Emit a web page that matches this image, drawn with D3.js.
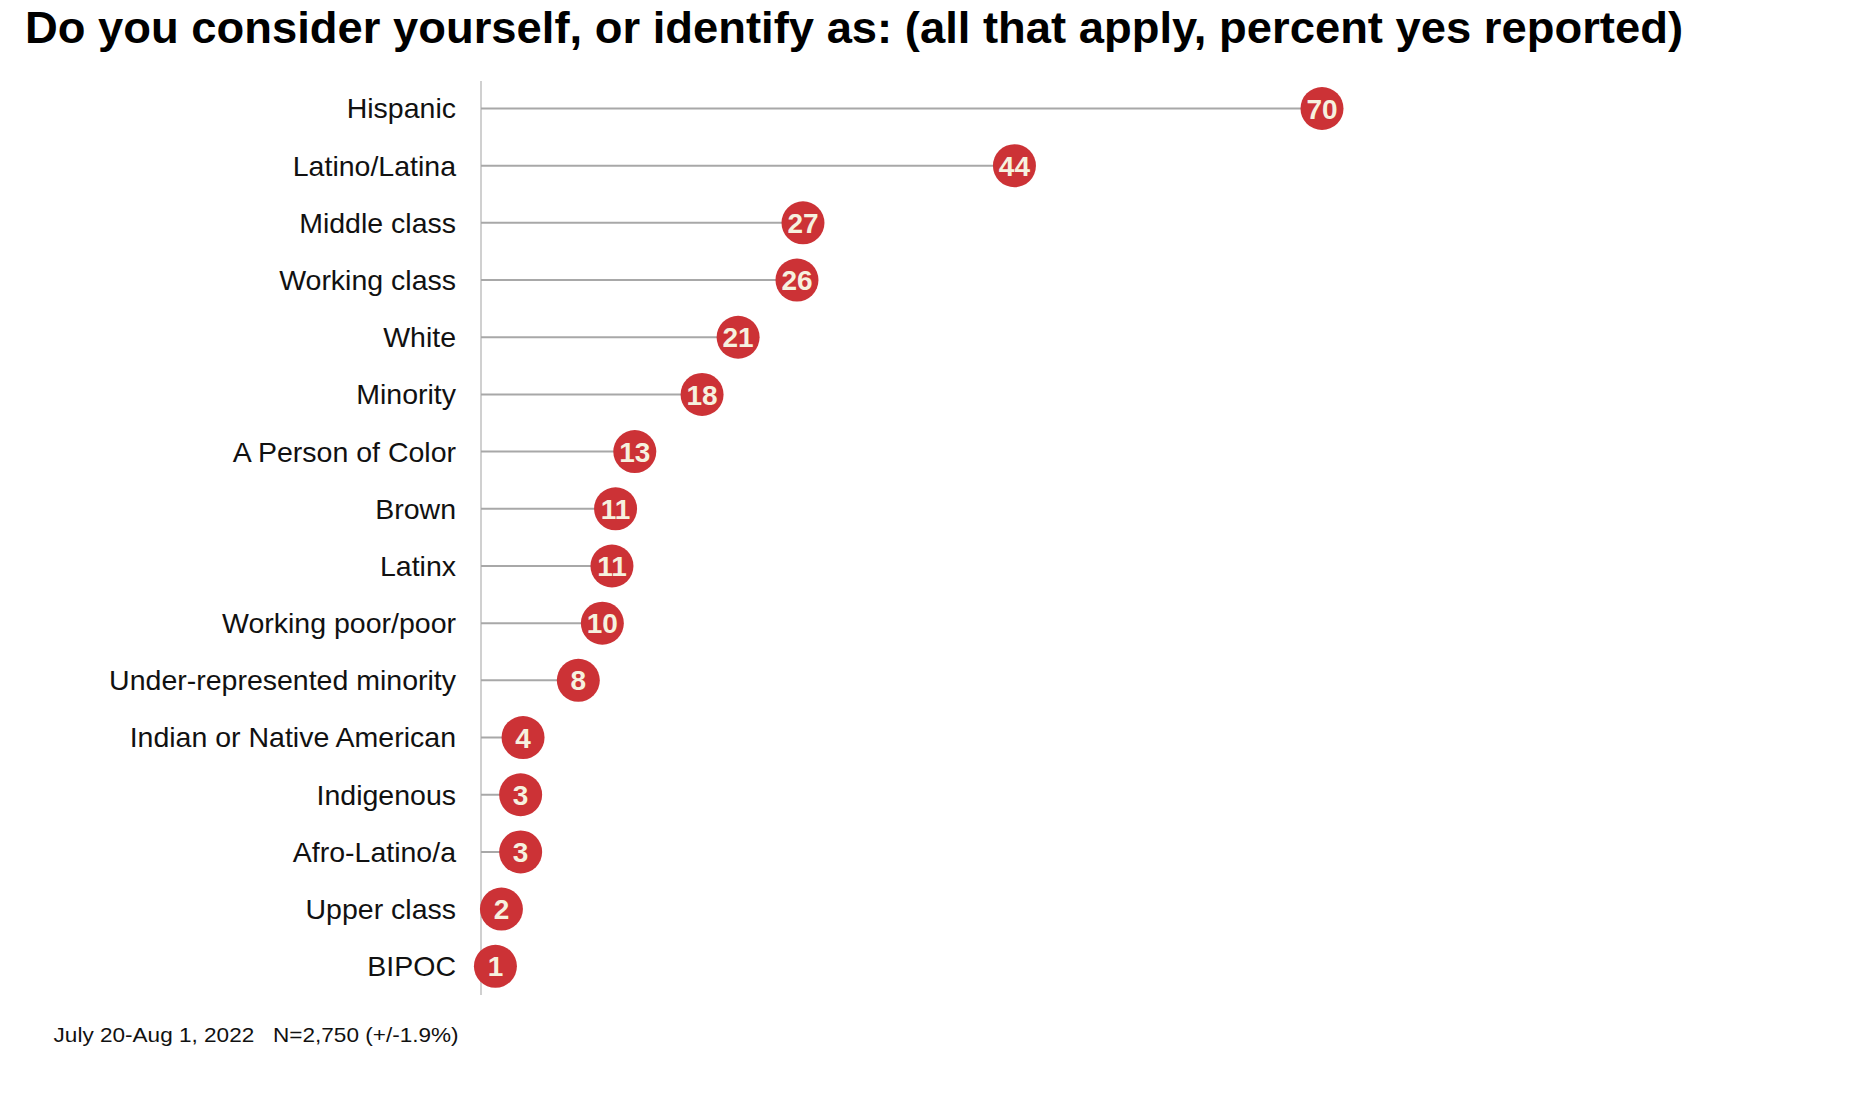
<!DOCTYPE html>
<html><head><meta charset="utf-8">
<script src="https://cdn.jsdelivr.net/npm/d3@7"></script>
<style>body{margin:0;background:#fff}svg{display:block}</style>
</head><body>
<script>
const categories = ["Hispanic","Latino/Latina","Middle class","Working class","White","Minority","A Person of Color","Brown","Latinx","Working poor/poor","Under-represented minority","Indian or Native American","Indigenous","Afro-Latino/a","Upper class","BIPOC"];
const values = [70, 44.4, 26.8, 26.3, 21.4, 18.4, 12.8, 11.2, 10.9, 10.1, 8.1, 3.5, 3.3, 3.3, 1.7, 1.2];
const valueLabels = ["70","44","27","26","21","18","13","11","11","10","8","4","3","3","2","1"];
const titleText = "Do you consider yourself, or identify as: (all that apply, percent yes reported)";
const footerText = "July 20-Aug 1, 2022   N=2,750 (+/-1.9%)";

const W = 1868, H = 1095;
const svg = d3.select("body").append("svg").attr("width", W).attr("height", H);

const x = d3.scaleLinear().domain([0, 70]).range([481, 1322]);
const y = d3.scalePoint().domain(categories).range([108.5, 966.3]);

svg.append("text").attr("x", 25).attr("y", 43)
  .attr("font-family", "Liberation Sans, Arial, sans-serif").attr("font-weight", "bold")
  .attr("font-size", 45).attr("textLength", 1658).attr("lengthAdjust", "spacingAndGlyphs")
  .attr("fill", "#000").text(titleText);

// axis line
svg.append("line").attr("x1", x(0)).attr("x2", x(0)).attr("y1", 81).attr("y2", 995)
  .attr("stroke", "#d0d0d0").attr("stroke-width", 2);

// category labels via axis
const yAxis = svg.append("g").attr("transform", `translate(${x(0) - 25},0)`)
  .call(d3.axisLeft(y).tickSize(0).tickPadding(0));
yAxis.select(".domain").remove();
yAxis.selectAll("text").attr("font-family", "Liberation Sans, Arial, sans-serif")
  .attr("font-size", 28.5).attr("fill", "#111").attr("dy", "0.33em");

const g = svg.append("g");
const data = categories.map((c, i) => ({c, v: values[i], l: valueLabels[i]}));
g.selectAll("line.stem").data(data).join("line").attr("class", "stem")
  .attr("x1", x(0)).attr("x2", d => x(d.v)).attr("y1", d => y(d.c)).attr("y2", d => y(d.c))
  .attr("stroke", "#a8a8a8").attr("stroke-width", 2);
g.selectAll("circle").data(data).join("circle")
  .attr("cx", d => x(d.v)).attr("cy", d => y(d.c)).attr("r", 21.5).attr("fill", "#cc3236");
g.selectAll("text.val").data(data).join("text").attr("class", "val")
  .attr("x", d => x(d.v)).attr("y", d => y(d.c)).attr("dy", "0.36em").attr("text-anchor", "middle")
  .attr("font-family", "Liberation Sans, Arial, sans-serif").attr("font-weight", "bold")
  .attr("font-size", 28).attr("fill", "#f6f1df").text(d => d.l);

svg.append("text").attr("x", 53.6).attr("y", 1042)
  .attr("font-family", "Liberation Sans, Arial, sans-serif").attr("font-size", 21)
  .attr("textLength", 405).attr("lengthAdjust", "spacingAndGlyphs")
  .attr("xml:space", "preserve").style("white-space", "pre")
  .attr("fill", "#111").text(footerText);
</script>
</body></html>
